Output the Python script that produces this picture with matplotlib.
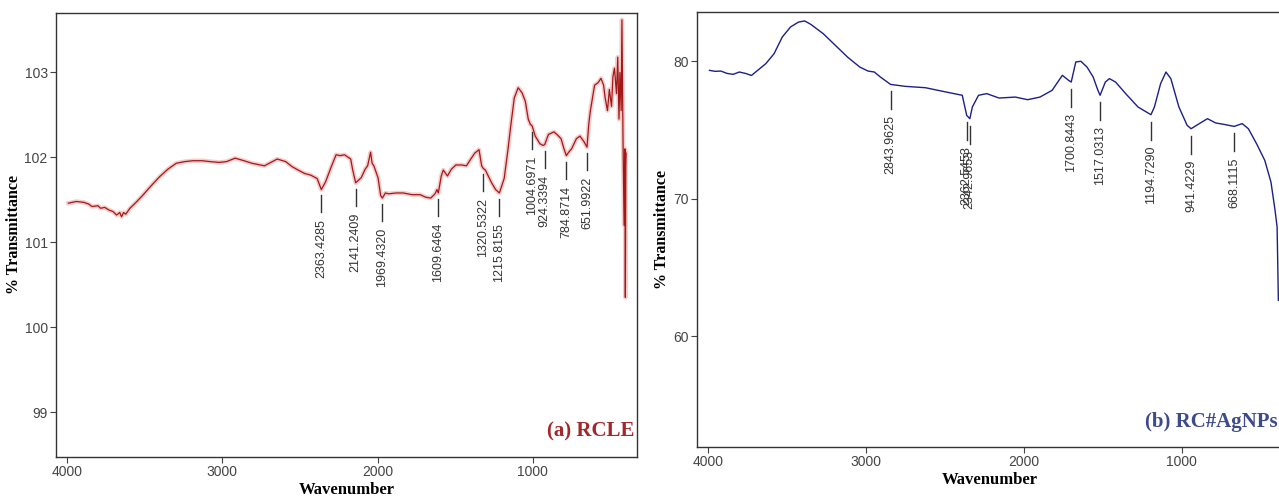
import numpy as np
import matplotlib
matplotlib.use("Agg")
import matplotlib.pyplot as plt

# (a) RCLE spectrum
wn_a = [3990, 3940, 3892, 3860, 3838, 3800, 3783, 3756, 3730, 3702, 3680, 3660, 3648, 3635,
        3621, 3594, 3560, 3513, 3460, 3404, 3350, 3296, 3240, 3188, 3130, 3080, 3020, 2971,
        2917, 2860, 2809, 2728, 2646, 2592, 2550, 2511, 2470, 2430, 2389, 2362, 2335, 2300,
        2267, 2240, 2213, 2173, 2160, 2141, 2105, 2080, 2064, 2045, 2035, 2024, 1997, 1980,
        1969, 1950, 1929, 1880, 1834, 1780, 1726, 1690, 1658, 1630, 1618, 1609, 1590, 1577,
        1550, 1525, 1496, 1460, 1428, 1400, 1374, 1347, 1330, 1320, 1306, 1266, 1240, 1216,
        1185, 1160, 1144, 1120, 1095, 1070, 1049, 1030, 1017, 1005, 985, 955, 935, 924, 900,
        887, 865, 846, 819, 800, 785, 770, 751, 720, 697, 670, 652, 640, 630, 603, 580, 562,
        545, 535, 520, 508, 494, 485, 475, 462, 454, 446, 440, 432, 427, 420, 413, 408, 405,
        402, 400]
tr_a = [101.46, 101.48, 101.47, 101.45, 101.42, 101.43, 101.40, 101.41, 101.38, 101.36, 101.32,
        101.35, 101.30, 101.35, 101.33, 101.40, 101.46, 101.55, 101.66, 101.77, 101.86, 101.93,
        101.95, 101.96, 101.96, 101.95, 101.94, 101.95, 101.99, 101.96, 101.93, 101.90, 101.98,
        101.95, 101.89, 101.85, 101.81, 101.79, 101.75, 101.62, 101.71, 101.88, 102.03, 102.02,
        102.03, 101.98, 101.85, 101.70, 101.76, 101.86, 101.90, 102.06, 101.93, 101.90, 101.76,
        101.55, 101.52, 101.58, 101.57, 101.58, 101.58, 101.56, 101.56, 101.53, 101.52, 101.57,
        101.62, 101.58, 101.78, 101.85, 101.78, 101.86, 101.91, 101.91, 101.90, 101.98, 102.05,
        102.09, 101.90, 101.87, 101.85, 101.70, 101.62, 101.58, 101.75, 102.10, 102.35, 102.70,
        102.82, 102.76, 102.66, 102.45, 102.39, 102.37, 102.25, 102.16, 102.14, 102.15, 102.27,
        102.28, 102.30, 102.27, 102.22, 102.10, 102.02, 102.06, 102.10, 102.22, 102.25, 102.18,
        102.12, 102.40, 102.55, 102.85, 102.88, 102.93, 102.85, 102.70, 102.55, 102.80, 102.60,
        102.95, 103.05, 102.75, 103.18, 102.45, 103.00, 102.55, 103.62, 102.20, 101.20, 102.10,
        100.35, 101.90, 102.05]
peaks_a = ["2363.4285", "2141.2409", "1969.4320", "1609.6464", "1320.5322", "1215.8155",
           "1004.6971", "924.3394", "784.8714", "651.9922"]

# (b) RC#AgNPs spectrum
wn_b = [3991, 3955, 3919, 3880, 3841, 3802, 3763, 3725, 3686, 3634, 3582, 3530, 3478, 3427,
        3388, 3349, 3271, 3194, 3117, 3039, 2987, 2947, 2909, 2844, 2752, 2623, 2494, 2390,
        2362, 2342, 2326, 2287, 2235, 2157, 2054, 1976, 1898, 1821, 1756, 1717, 1700, 1671,
        1639, 1600, 1561, 1531, 1517, 1484, 1458, 1419, 1355, 1277, 1195, 1173, 1134, 1100,
        1069, 1018, 966, 941, 889, 837, 785, 734, 668, 617, 578, 526, 474, 435, 409, 396, 388]
tr_b = [79.32, 79.25, 79.27, 79.10, 79.03, 79.20, 79.10, 78.95, 79.32, 79.81, 80.53, 81.74,
        82.47, 82.83, 82.91, 82.66, 81.99, 81.14, 80.29, 79.56, 79.27, 79.20, 78.84, 78.30,
        78.16, 78.06, 77.75, 77.51, 76.05, 75.81, 76.66, 77.51, 77.63, 77.31, 77.38, 77.19,
        77.38, 77.87, 78.96, 78.60, 78.47, 79.93, 79.98, 79.56, 78.84, 77.87, 77.51, 78.47,
        78.72, 78.47, 77.63, 76.66, 76.10, 76.66, 78.35, 79.20, 78.72, 76.66, 75.33, 75.08,
        75.45, 75.81, 75.50, 75.40, 75.25, 75.45, 75.08, 73.99, 72.78, 71.21, 69.15, 67.94,
        62.62]
peaks_b = ["2843.9625", "2362.5453", "2342.9653", "1700.8443", "1517.0313", "1194.7290",
           "941.4229", "668.1115"]

xticks = [4000, 3000, 2000, 1000]
yticks_a = [99, 100, 101, 102, 103]
yticks_b = [60, 70, 80]

W, H = 1279, 500
fig = plt.figure(figsize=(W / 100, H / 100), dpi=100)

serif = ["Liberation Serif", "DejaVu Serif"]
sans = ["Liberation Sans", "DejaVu Sans"]


def style_axes(ax, xlim, ylim, yticks):
    ax.set_xlim(*xlim)
    ax.set_ylim(*ylim)
    ax.set_xticks(xticks)
    ax.set_yticks(yticks)
    for s in ax.spines.values():
        s.set_color("#333333")
        s.set_linewidth(1.0)
    ax.tick_params(direction="out", length=4, width=0.8, color="#444444",
                   labelcolor="#444444", labelsize=10, pad=2)
    for lab in ax.get_xticklabels() + ax.get_yticklabels():
        lab.set_family(sans)
    ax.set_xlabel("Wavenumber", family=serif, fontweight="bold", fontsize=12, labelpad=2)
    ax.set_ylabel("% Transmittance", family=serif, fontweight="bold", fontsize=11.5, labelpad=2)


def mark_peaks(ax, wn, tr, labels, gap=6, length=17, tgap=7):
    y0, y1 = ax.get_ylim()
    px = (y1 - y0) / (ax.get_position().height * H)
    xs = np.array(wn[::-1], float)
    ys = np.array(tr[::-1], float)
    for lab in labels:
        w = float(lab)
        yv = np.interp(w, xs, ys)
        ax.plot([w, w], [yv - gap * px, yv - (gap + length) * px], color="#333333", lw=1.0)
        ax.text(w, yv - (gap + length + tgap) * px, lab, rotation=90, ha="center", va="top",
                fontsize=9, color="#333333", family=sans)


# left panel
ax1 = fig.add_axes([56 / W, 1 - 457 / H, (637 - 56) / W, (457 - 13) / H])
style_axes(ax1, (4070, 330), (98.47, 103.70), yticks_a)
ax1.plot(wn_a, tr_a, color="#e03030", lw=3.2, alpha=0.25, solid_joinstyle="round")
ax1.plot(wn_a, tr_a, color="#a01818", lw=0.9)
mark_peaks(ax1, wn_a, tr_a, peaks_a)
ax1.text(0.995, 0.035, "(a) RCLE", transform=ax1.transAxes, ha="right", va="bottom",
         family=serif, fontweight="bold", fontsize=15, color="#a3282c")

# right panel (cut off at the right edge of the picture)
ax2 = fig.add_axes([697 / W, 1 - 447 / H, (1282 - 697) / W, (447 - 12) / H])
style_axes(ax2, (4070, 365), (51.96, 83.56), yticks_b)
ax2.plot(wn_b, tr_b, color="#1c1f8a", lw=1.0)
mark_peaks(ax2, wn_b, tr_b, peaks_b, gap=7, length=18, tgap=6)
ax2.text(0.992, 0.035, "(b) RC#AgNPs", transform=ax2.transAxes, ha="right", va="bottom",
         family=serif, fontweight="bold", fontsize=15, color="#3d4a8c")

fig.savefig("out.png", dpi=100)
